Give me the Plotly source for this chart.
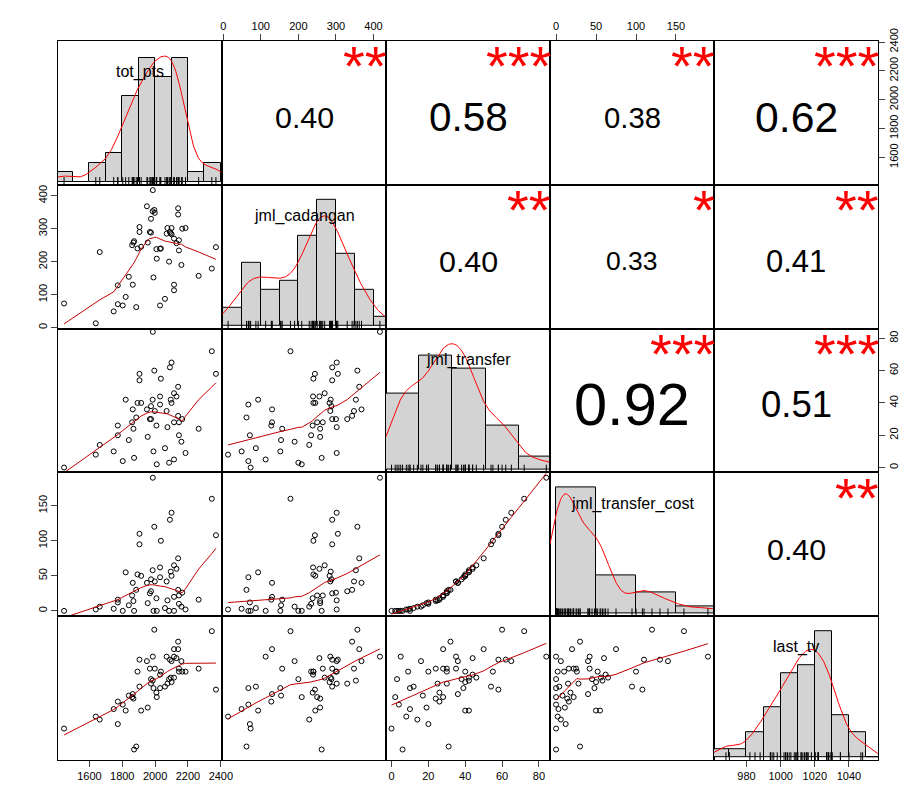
import numpy as np
import plotly.graph_objects as go
from plotly.subplots import make_subplots

names = ["tot_pts", "jml_cadangan", "jml_transfer", "jml_transfer_cost", "last_tv"]

tot_pts = [1446, 1639, 1663, 1748, 1773, 1773, 1803, 1821, 1840, 1864, 1868, 1872, 1860, 1885,
           1893, 1905, 1905, 1915, 1950, 1955, 1968, 1975, 1990, 1985, 1995, 1998, 2008, 2010,
           2030, 2035, 2030, 2060, 2070, 2075, 2085, 2090, 2095, 2100, 2100, 2115, 2115, 2115,
           2130, 2140, 2140, 2145, 2145, 2160, 2165, 2185, 2265, 2345, 2370, 1986, 1975]
jml_cadangan = [73, 13, 229, 49, 128, 71, 67, 93, 154, 130, 258, 262, 250, 62,
                240, 305, 290, 245, 368, 258, 290, 288, 152, 353, 357, 348, 238, 209,
                239, 240, 67, 87, 285, 302, 200, 290, 286, 302, 283, 130, 113, 270,
                256, 343, 362, 234, 265, 190, 300, 302, 157, 179, 244, 417, 330]
jml_transfer = [0, 8, 14, 10, 26, 20, 4, 42, 17, 36, 24, 6, 28, 31,
                40, 58, 54, 40, 36, 19, 30, 38, 10, 42, 60, 35, 26, 2,
                44, 55, 39, 12, 35, 25, 3, 62, 42, 65, 40, 28, 5, 46,
                44, 32, 50, 20, 28, 16, 30, 9, 24, 72, 58, 84, 30]
jml_transfer_cost = [0, 2, 6, 3, 16, 12, 0, 55, 8, 40, 14, 0, 22, 30,
                     52, 110, 95, 50, 40, 11, 25, 45, 0, 58, 120, 42, 18, 0,
                     62, 100, 48, 4, 42, 15, 0, 130, 56, 140, 50, 20, 0, 65,
                     60, 30, 75, 10, 22, 6, 26, 2, 16, 160, 108, 190, 28]
last_tv = [982, 990, 988, 995, 1000, 985, 998, 994, 1004, 1005, 1002, 968, 1003, 970,
           1020, 1028, 1010, 994, 1027, 996, 1022, 1015, 1009, 1014, 1048, 1022, 1006, 1003,
           1018, 1020, 1009, 1010, 1030, 1012, 1015, 1028, 1016, 1027, 1013, 1035, 1030, 1016,
           1029, 1040, 1035, 1020, 1022, 1027, 1020, 1020, 1022, 1047, 1008, 1030, 1012]

# correlation labels shown in the upper panels (row, col, value, stars)
cor_cells = [(1, 2, 0.40, "**"), (1, 3, 0.58, "***"), (1, 4, 0.38, "**"), (1, 5, 0.62, "***"),
             (2, 3, 0.40, "**"), (2, 4, 0.33, "*"), (2, 5, 0.41, "**"),
             (3, 4, 0.92, "***"), (3, 5, 0.51, "***"),
             (4, 5, 0.40, "**")]

hist_bins = [np.arange(1400, 2401, 100), np.arange(0, 451, 50), np.arange(-3, 90, 18),
             np.arange(0, 201, 50), np.arange(960, 1061, 10)]

data = [np.array(v, float) for v in (tot_pts, jml_cadangan, jml_transfer, jml_transfer_cost, last_tv)]


def lowess(x, y, f=2 / 3, iters=3):
    order = np.argsort(x)
    x, y = x[order], y[order]
    n = len(x)
    r = int(np.ceil(f * n))
    rw = np.ones(n)
    fit = np.zeros(n)
    for _ in range(iters + 1):
        for i in range(n):
            d = np.abs(x - x[i])
            h = max(np.sort(d)[r - 1], 1e-9)
            w = np.clip(1 - (d / h) ** 3, 0, 1) ** 3 * rw
            W = w.sum()
            mx = (w * x).sum() / W
            my = (w * y).sum() / W
            sxx = (w * (x - mx) ** 2).sum()
            b = (w * (x - mx) * (y - my)).sum() / sxx if sxx > 0 else 0
            fit[i] = my + b * (x[i] - mx)
        res = y - fit
        s = np.median(np.abs(res))
        rw = np.clip(1 - (res / (6 * s + 1e-9)) ** 2, 0, 1) ** 2
    return x, fit


def kde(x, grid):
    bw = 0.9 * min(x.std(ddof=1), (np.percentile(x, 75) - np.percentile(x, 25)) / 1.34) * len(x) ** -0.2
    z = (grid[:, None] - x[None, :]) / bw
    return np.exp(-0.5 * z ** 2).sum(1) / (len(x) * bw * np.sqrt(2 * np.pi))


def pad(lo, hi, p=0.04):
    d = hi - lo
    return [lo - p * d, hi + p * d]


def axname(r, c):
    idx = (r - 1) * 5 + c
    return ("x", "y") if idx == 1 else (f"x{idx}", f"y{idx}")


ranges = [pad(v.min(), v.max()) for v in data]
ranges[2] = [-3, 86]
ranges[4] = [961, 1057]

fig = make_subplots(rows=5, cols=5, horizontal_spacing=0, vertical_spacing=0)

for i in range(5):
    for j in range(5):
        r, c = i + 1, j + 1
        if i == j:
            v = data[i]
            cnt, edges = np.histogram(v, bins=hist_bins[i])
            dens = cnt / (len(v) * np.diff(edges))
            fig.add_trace(go.Bar(x=(edges[:-1] + edges[1:]) / 2, y=dens, width=np.diff(edges),
                                 marker=dict(color="#d3d3d3", line=dict(color="black", width=1))),
                          row=r, col=c)
            grid = np.linspace(ranges[i][0], ranges[i][1], 200)
            fig.add_trace(go.Scatter(x=grid, y=kde(v, grid), mode="lines",
                                     line=dict(color="red", width=1)), row=r, col=c)
            top = max(dens.max(), kde(v, grid).max()) * 1.12
            fig.add_trace(go.Scatter(x=v, y=[0] * len(v), mode="markers",
                                     marker=dict(symbol="line-ns", size=7, line=dict(width=1, color="black"))),
                          row=r, col=c)
            fig.update_yaxes(range=[-0.02 * top, top], row=r, col=c)
            fig.update_xaxes(range=ranges[i], row=r, col=c)
            ax, ay = axname(r, c)
            fig.add_annotation(text=names[i], x=0.5, y=0.86, showarrow=False,
                               xref=f"{ax} domain", yref=f"{ay} domain",
                               font=dict(size=16, color="black"))
        elif i > j:
            xv, yv = data[j], data[i]
            fig.add_trace(go.Scatter(x=xv, y=yv, mode="markers",
                                     marker=dict(symbol="circle-open", size=5, color="black", line=dict(width=1))),
                          row=r, col=c)
            sx, sy = lowess(xv, yv)
            fig.add_trace(go.Scatter(x=sx, y=sy, mode="lines", line=dict(color="#c00000", width=1)),
                          row=r, col=c)
            fig.update_xaxes(range=ranges[j], row=r, col=c)
            fig.update_yaxes(range=ranges[i], row=r, col=c)
        else:
            # invisible trace so the empty upper panel axes are drawn
            fig.add_trace(go.Scatter(x=[ranges[j][0]], y=[ranges[i][0]], mode="markers",
                                     marker=dict(opacity=0), hoverinfo="skip"), row=r, col=c)
            fig.update_xaxes(range=ranges[j], row=r, col=c)
            fig.update_yaxes(range=ranges[i], row=r, col=c)

for (r, c, val, stars) in cor_cells:
    ax, ay = axname(r, c)
    size = 8 + 56 * abs(val)
    fig.add_annotation(text=f"{val:.2f}", x=0.5, y=0.47, xref=f"{ax} domain", yref=f"{ay} domain",
                       showarrow=False, font=dict(size=size, color="black"))
    fig.add_annotation(text=stars, x=1.02, y=1.06, xref=f"{ax} domain", yref=f"{ay} domain",
                       xanchor="right", yanchor="top", showarrow=False,
                       font=dict(size=56, color="red"))

ticks = [[1600, 1800, 2000, 2200, 2400], [0, 100, 200, 300, 400], [0, 20, 40, 60, 80],
         [0, 50, 100, 150], [980, 1000, 1020, 1040]]

for i in range(5):
    for j in range(5):
        r, c = i + 1, j + 1
        fig.update_xaxes(showgrid=False, zeroline=False, showticklabels=False, ticks="",
                         showline=True, mirror=True, linecolor="black", linewidth=1, row=r, col=c)
        fig.update_yaxes(showgrid=False, zeroline=False, showticklabels=False, ticks="",
                         showline=True, mirror=True, linecolor="black", linewidth=1, row=r, col=c)

tickfont = dict(size=11, color="black", family="Liberation Sans, Arial")
for c in (1, 3, 5):
    fig.update_xaxes(showticklabels=True, ticks="outside", ticklen=6, tickvals=ticks[c - 1],
                     tickfont=tickfont, side="bottom", row=5, col=c)
for c in (2, 4):
    fig.update_xaxes(showticklabels=True, ticks="outside", ticklen=6, tickvals=ticks[c - 1],
                     tickfont=tickfont, side="top", row=1, col=c)
for r in (2, 4):
    fig.update_yaxes(showticklabels=True, ticks="outside", ticklen=6, tickvals=ticks[r - 1],
                     tickfont=tickfont, tickangle=-90, side="left", row=r, col=1)
for r in (1, 3, 5):
    fig.update_yaxes(showticklabels=True, ticks="outside", ticklen=6, tickvals=ticks[r - 1],
                     tickfont=tickfont, tickangle=-90, side="right", row=r, col=5)

fig.update_layout(width=921, height=806, showlegend=False, plot_bgcolor="white", paper_bgcolor="white",
                  margin=dict(l=50, r=51, t=18, b=54), bargap=0,
                  font=dict(family="Liberation Sans, Arial", color="black"))

fig.write_html("out.html")
